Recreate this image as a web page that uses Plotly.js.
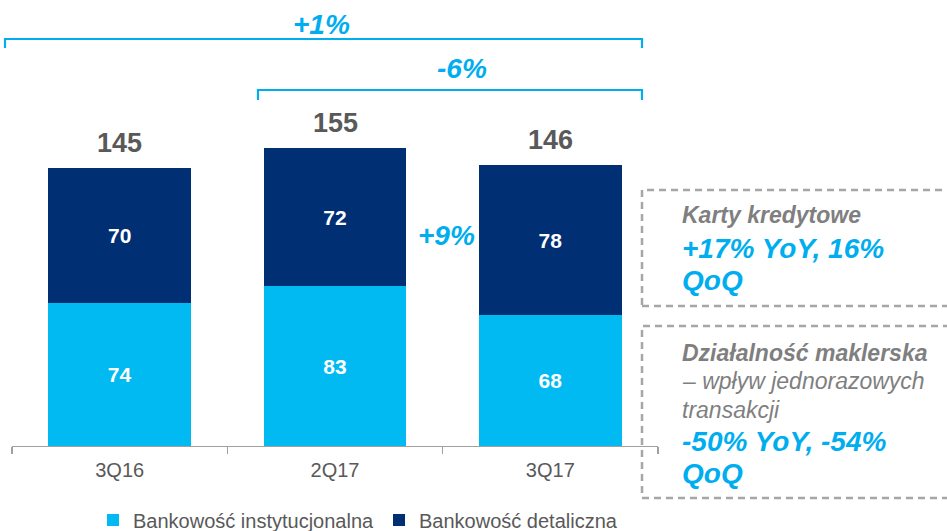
<!DOCTYPE html>
<html>
<head>
<meta charset="utf-8">
<script src="https://cdn.plot.ly/plotly-3.0.1.min.js"></script>
<style>html,body{margin:0;padding:0;background:#fff}#chart{width:947px;height:531px}</style>
</head>
<body>
<div id="chart"></div>
<script>
const categories = ["3Q16", "2Q17", "3Q17"];
const instytucjonalna = [74.4, 83, 68];
const detaliczna = [70.4, 72, 78];
const seriesNames = ["Bankowość instytucjonalna", "Bankowość detaliczna"];

const W = 947, H = 531;
const M = {l: 12, r: 289, t: 0, b: 85, autoexpand: false};
const PW = W - M.l - M.r, PH = H - M.t - M.b;
const px = x => (x - M.l) / PW;
const py = y => (M.t + PH - y) / PH;

const CYAN = "#00AEEF", LIGHT = "#00BAF1", DARK = "#002F74", GREY = "#595959", TXTGREY = "#7F7F7F";
const FONT = "Liberation Sans, Arial, sans-serif";

const totals = categories.map((c, i) => Math.round(instytucjonalna[i] + detaliczna[i]));

const barCommon = {
  type: "bar", x: categories, textposition: "inside", insidetextanchor: "middle",
  texttemplate: "<b>%{y:.0f}</b>", textfont: {color: "#fff", size: 21, family: FONT},
  constraintext: "none", textangle: 0, hoverinfo: "skip"
};
const data = [
  Object.assign({}, barCommon, {name: seriesNames[0], y: instytucjonalna, marker: {color: LIGHT}}),
  Object.assign({}, barCommon, {name: seriesNames[1], y: detaliczna, marker: {color: DARK}})
];

const annotations = categories.map((c, i) => ({
  x: c, y: instytucjonalna[i] + detaliczna[i], xref: "x", yref: "y", text: "<b>" + totals[i] + "</b>",
  showarrow: false, yanchor: "bottom", yshift: 8,
  font: {size: 27, color: GREY, family: FONT}
}));

function txt(x, y, text, size, color, anchor) {
  annotations.push({x: px(x), y: py(y), xref: "paper", yref: "paper", text: text,
    showarrow: false, xanchor: anchor || "left", yanchor: "middle",
    font: {size: size, color: color, family: FONT}});
}
txt(321, 24, "<b><i>+1%</i></b>", 28, CYAN, "center");
txt(462, 68, "<b><i>-6%</i></b>", 28, CYAN, "center");
txt(446, 235, "<b><i>+9%</i></b>", 28, CYAN, "center");
txt(680, 215, "<b><i>Karty kredytowe</i></b>", 23, TXTGREY);
txt(680, 248, "<b><i>+17% YoY, 16%</i></b>", 28, CYAN);
txt(680, 281, "<b><i>QoQ</i></b>", 28, CYAN);
txt(680, 353, "<b><i>Działalność maklerska</i></b>", 23, TXTGREY);
txt(680, 381, "<i>– wpływ jednorazowych</i>", 23, TXTGREY);
txt(680, 410, "<i>transakcji</i>", 23, TXTGREY);
txt(680, 441, "<b><i>-50% YoY, -54%</i></b>", 28, CYAN);
txt(680, 473, "<b><i>QoQ</i></b>", 28, CYAN);

function bracket(x0, x1, y, drop) {
  return {type: "path", xref: "paper", yref: "paper",
    path: `M ${px(x0)} ${py(y + drop)} L ${px(x0)} ${py(y)} L ${px(x1)} ${py(y)} L ${px(x1)} ${py(y + drop)}`,
    line: {color: CYAN, width: 2.2}};
}
function dbox(x0, y0, x1, y1) {
  return {type: "rect", xref: "paper", yref: "paper", x0: px(x0), x1: px(x1), y0: py(y1), y1: py(y0),
    line: {color: "#A6A6A6", width: 2.5, dash: "7px,5px"}, fillcolor: "rgba(0,0,0,0)", layer: "above"};
}
const shapes = [
  bracket(5, 642, 39, 9),
  bracket(258, 642, 90, 10),
  dbox(642, 190, 980, 306),
  dbox(642, 326, 980, 498)
];

const layout = {
  width: W, height: H, margin: M, paper_bgcolor: "#fff", plot_bgcolor: "#fff",
  barmode: "stack", bargap: 0.336, showlegend: true,
  font: {family: FONT, color: GREY},
  xaxis: {type: "category", showline: true, linecolor: "#A0A0A0", linewidth: 1.3,
    ticks: "outside", tickson: "boundaries", ticklen: 7, tickcolor: "#A0A0A0", tickwidth: 1.3,
    ticklabelstandoff: 6,
    tickfont: {size: 20, color: GREY, family: FONT}, showgrid: false, zeroline: false, fixedrange: true},
  yaxis: {visible: false, range: [0, 232], showgrid: false, zeroline: false, fixedrange: true},
  legend: {orientation: "h", x: px(358), xanchor: "center", y: py(520), yanchor: "middle",
    traceorder: "normal", font: {size: 20, color: GREY, family: FONT}, itemwidth: 30,
    bgcolor: "rgba(0,0,0,0)"},
  annotations: annotations, shapes: shapes
};

Plotly.newPlot("chart", data, layout, {staticPlot: true, displayModeBar: false});
</script>
</body>
</html>
